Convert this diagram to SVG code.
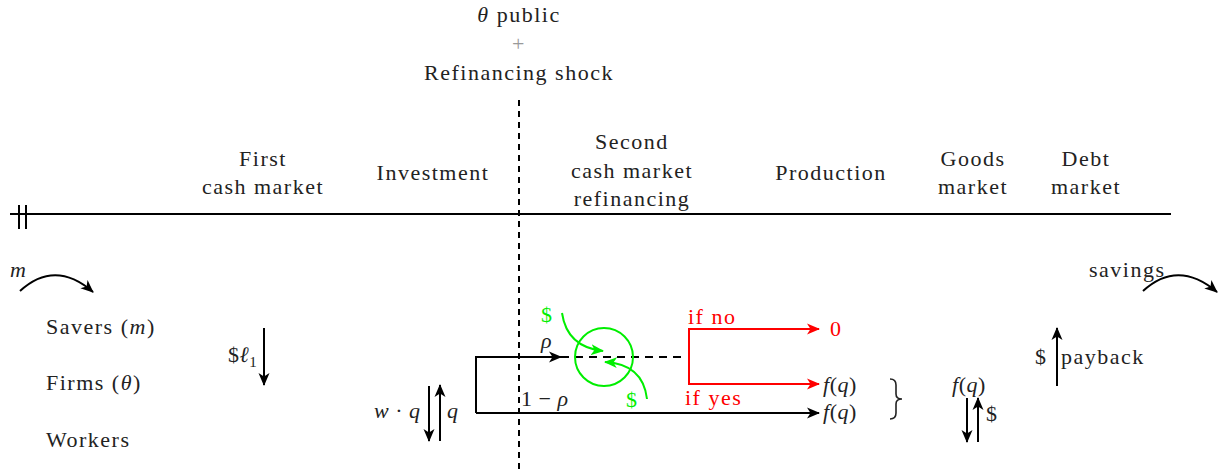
<svg xmlns="http://www.w3.org/2000/svg" width="1224" height="473" viewBox="0 0 1224 473">
<style>
text{font-family:"Liberation Serif","DejaVu Serif",serif;font-size:22px;fill:#222;letter-spacing:1.5px}
text.m{letter-spacing:0.5px}
.c{text-anchor:middle}
.i{font-style:italic}
.r{fill:#ff0000}
.g{fill:#00ee00}
.k{stroke:#000;stroke-width:2;fill:none}
.rl{stroke:#ff0000;stroke-width:2;fill:none}
.gl{stroke:#00ee00;stroke-width:2;fill:none}
</style>
<defs>
<marker id="ak" markerUnits="userSpaceOnUse" markerWidth="14" markerHeight="12" refX="12" refY="6" orient="auto"><path d="M0,0.5 L13,6 L0,11.5 L3.5,6 z" fill="#000"/></marker>
<marker id="ar" markerUnits="userSpaceOnUse" markerWidth="14" markerHeight="12" refX="12" refY="6" orient="auto"><path d="M0,0.5 L13,6 L0,11.5 L3.5,6 z" fill="#ff0000"/></marker>
<marker id="ag" markerUnits="userSpaceOnUse" markerWidth="14" markerHeight="12" refX="12" refY="6" orient="auto"><path d="M0,0.5 L13,6 L0,11.5 L3.5,6 z" fill="#00ee00"/></marker>
</defs>

<g id="header">
<text class="c" x="519" y="22"><tspan class="i">θ</tspan> public</text>
<text class="c" x="519" y="51" style="fill:#999">+</text>
<text class="c" x="519" y="80">Refinancing shock</text>
</g>

<g id="timeline">
<line class="k" x1="10" y1="214" x2="1171" y2="214"/>
<line class="k" x1="19" y1="205" x2="19" y2="229"/>
<line class="k" x1="26" y1="205" x2="26" y2="229"/>
<line class="k" x1="519" y1="100" x2="519" y2="470" stroke-dasharray="6,5"/>
</g>

<g id="col-first"><text class="c" x="263" y="166">First</text><text class="c" x="263" y="194">cash market</text></g>
<g id="col-investment"><text class="c" x="433" y="180">Investment</text></g>
<g id="col-second"><text class="c" x="632" y="149">Second</text><text class="c" x="632" y="178">cash market</text><text class="c" x="632" y="206">refinancing</text></g>
<g id="col-production"><text class="c" x="831" y="180">Production</text></g>
<g id="col-goods"><text class="c" x="973" y="166">Goods</text><text class="c" x="973" y="194">market</text></g>
<g id="col-debt"><text class="c" x="1086" y="166">Debt</text><text class="c" x="1086" y="194">market</text></g>

<g id="agents">
<text class="i" x="10" y="277">m</text>
<text x="46" y="334">Savers (<tspan class="i">m</tspan>)</text>
<text x="46" y="390">Firms (<tspan class="i">θ</tspan>)</text>
<text x="46" y="447">Workers</text>
<text x="1089" y="277">savings</text>
</g>

<g id="labels">
<text class="m" x="228" y="362">$<tspan class="i">ℓ</tspan><tspan font-size="15" dy="5">1</tspan></text>
<text class="m" x="374" y="418"><tspan class="i">w</tspan> · <tspan class="i">q</tspan></text>
<text class="i" x="447" y="418">q</text>
<text class="i" x="541" y="348">ρ</text>
<text class="m" x="521" y="406">1 − <tspan class="i">ρ</tspan></text>
<text class="g" x="541" y="322">$</text>
<text class="g" x="626" y="407">$</text>
<text class="r" x="688" y="324">if no</text>
<text class="r" x="685" y="405">if yes</text>
<text class="r" x="830" y="336">0</text>
<text class="m" x="823" y="392"><tspan class="i">f</tspan>(<tspan class="i">q</tspan>)</text>
<text class="m" x="823" y="419"><tspan class="i">f</tspan>(<tspan class="i">q</tspan>)</text>
<text class="m" x="952" y="392"><tspan class="i">f</tspan>(<tspan class="i">q</tspan>)</text>
<text x="986" y="421">$</text>
<text x="1035" y="364">$</text>
<text x="1061" y="364">payback</text>
</g>

<g id="connectors">
<path class="k" d="M20,291 Q55,259 93,292" marker-end="url(#ak)"/>
<path class="k" d="M1143,291 Q1178,259 1217,292" marker-end="url(#ak)"/>
<line class="k" x1="264" y1="328" x2="264" y2="385" marker-end="url(#ak)"/>
<line class="k" x1="429" y1="386" x2="429" y2="441" marker-end="url(#ak)"/>
<line class="k" x1="440" y1="441" x2="440" y2="385" marker-end="url(#ak)"/>
<polyline class="k" points="568,357 476,357 476,413"/>
<line class="k" x1="476" y1="357" x2="561" y2="357" marker-end="url(#ak)"/>
<line class="k" x1="561" y1="357" x2="684" y2="357" stroke-dasharray="8,6"/>
<line class="k" x1="476" y1="413" x2="819" y2="413" marker-end="url(#ak)"/>
<polyline class="rl" points="819,329 689,329 689,384 819,384"/>
<line class="rl" x1="689" y1="329" x2="819" y2="329" marker-end="url(#ar)"/>
<line class="rl" x1="689" y1="384" x2="819" y2="384" marker-end="url(#ar)"/>
<circle class="gl" cx="604" cy="357" r="29"/>
<path class="gl" d="M562,313 Q567,347 603,351" marker-end="url(#ag)"/>
<path class="gl" d="M647,399 Q643,364 605,362" marker-end="url(#ag)"/>
<path d="M890,379 Q896,379 896,385 L896,394 Q896,399 902,399 Q896,399 896,404 L896,413 Q896,419 890,419" fill="none" stroke="#222" stroke-width="1.6"/>
<line class="k" x1="967" y1="398" x2="967" y2="442" marker-end="url(#ak)"/>
<line class="k" x1="978" y1="442" x2="978" y2="398" marker-end="url(#ak)"/>
<line class="k" x1="1057" y1="386" x2="1057" y2="328" marker-end="url(#ak)"/>
</g>
</svg>
